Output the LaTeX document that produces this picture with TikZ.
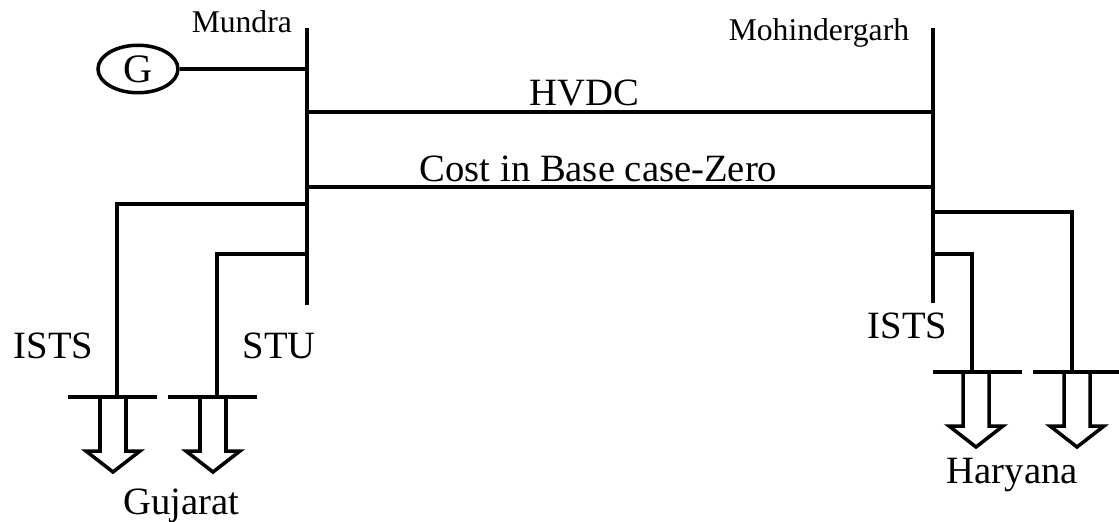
\documentclass[tikz,border=0pt]{standalone}
\usepackage{fontspec}
\setmainfont{Liberation Serif}
\usetikzlibrary{shapes,positioning}

\begin{document}
\begin{tikzpicture}[x=0.02cm,y=-0.02cm,line width=2pt]
    \tikzstyle{lbl}=[inner sep=0pt,anchor=base west,font=\fontsize{22}{26}\selectfont]
    \tikzstyle{busname}=[lbl,font=\fontsize{18}{22}\selectfont]
    \tikzstyle{gen}=[ellipse,draw,inner sep=0pt,minimum width=1.6cm,minimum height=0.95cm,font=\fontsize{23}{27}\selectfont]
    \tikzset{loadarrow/.pic={\draw[line join=miter] (-13,0) -- (-13,54) -- (-27,54) -- (0,75) -- (27,54) -- (13,54) -- (13,0);}}
    \useasboundingbox (0,0) rectangle (1119,521);
    % buses
    \coordinate (mundraTop) at (307,28);
    \coordinate (mundraBot) at (307,305);
    \coordinate (mohinTop) at (933,28);
    \coordinate (mohinBot) at (933,303);
    \draw (mundraTop) -- (mundraBot);
    \draw (mohinTop) -- (mohinBot);
    \node[busname] (mundra) at (190,32) {Mundra};
    \node[busname] (mohin) at (727,40) {Mohindergarh};
    % generator
    \node[gen] (gen) at (138,69) {G};
    \draw (gen) -- (gen -| mundraTop);
    % lines between buses
    \coordinate (hvdcA) at (307,112);
    \coordinate (costA) at (307,187);
    \draw (hvdcA) -- (hvdcA -| mohinTop);
    \draw (costA) -- (costA -| mohinTop);
    \node[lbl] (hvdc) at (528,105) {HVDC};
    \node[lbl] (cost) at (418,181) {Cost in Base case-Zero};
    % Gujarat loads
    \coordinate (gujA) at (113,397);
    \coordinate (gujB) at (213,397);
    \draw (307,204) -| (117,397);
    \draw (307,254) -| (217,397);
    \draw (68,397) -- (157,397);
    \draw (168,397) -- (257,397);
    \pic at (gujA) {loadarrow};
    \pic at (gujB) {loadarrow};
    \node[lbl] (istsL) at (12,358) {ISTS};
    \node[lbl] (stu) at (241,358) {STU};
    \node[lbl] (guj) at (122,514) {Gujarat};
    % Haryana loads
    \coordinate (harA) at (976,372);
    \coordinate (harB) at (1077,372);
    \draw (933,212) -| (1072,372);
    \draw (933,254) -| (972,372);
    \draw (933,372) -- (1022,372);
    \draw (1033,372) -- (1119,372);
    \pic at (harA) {loadarrow};
    \pic at (harB) {loadarrow};
    \node[lbl] (istsR) at (866,338) {ISTS};
    \node[lbl] (har) at (945,483) {Haryana};
\end{tikzpicture}
\end{document}
